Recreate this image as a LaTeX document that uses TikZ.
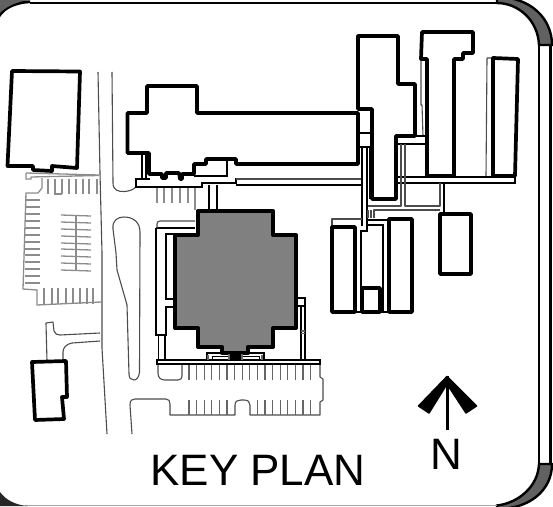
\documentclass[tikz,border=0pt]{standalone}
\usepackage{fontspec}
\setmainfont{Liberation Sans}
\usetikzlibrary{calc}
\tikzset{
  bldg/.style={draw=black,line width=3.7pt,line join=round,line cap=round},
  walk/.style={draw=black,line width=1.5pt,line join=miter},
  curb/.style={draw=black!70,line width=1.1pt,line join=round},
  lot/.style={draw=black!45,line width=1.3pt},
  stall/.style={draw=black!60,line width=1.3pt},
  corner/.style={fill=black!62,draw=black,line width=2.4pt},
  plantext/.style={inner sep=0pt,anchor=base,font=\fontsize{44}{44}\selectfont}
}
\def\drawbldg{\draw[bldg]}
\def\drawwalk{\draw[walk]}
\def\drawcurb{\draw[curb]}
\def\drawlot{\draw[lot]}
\begin{document}
\begin{tikzpicture}[x=1pt,y=-1pt]
\useasboundingbox (0,0) rectangle (553,506);
\begin{scope}
\clip (0,0) rectangle (553,506);
\draw[corner] (497,-3) .. controls (530,-3) and (552,18) .. (552,45) -- (539,45) .. controls (538,20) and (518,3) .. (497,3) -- cycle;
\draw[corner] (552,464) .. controls (552,490) and (530,509) .. (497,509) -- (497,505.5) .. controls (518,503) and (538,487) .. (539,464) -- cycle;
\end{scope}
\draw[line width=1.8pt] (30,3) -- (497,3);
\draw[black!35,line width=1pt] (25,505.5) -- (497,505.5);
\fill[black!62] (0,0) -- (30,0) -- (30,3) .. controls (15,4) and (5,9) .. (0,17) -- cycle;
\fill[black] (0,17) .. controls (5,9) and (15,4) .. (30,3) -- (30,1) -- (24,1) .. controls (14,3) and (5,8) .. (0,13) -- cycle;
\fill[black!85] (0,506) -- (0,492) .. controls (6,500) and (15,505) .. (28,506) -- cycle;
\draw[line width=1.6pt] (539,45) -- (539,464);
\draw[line width=2.6pt] (550.5,45) -- (550.5,464);
\draw[line width=1pt] (539,45) -- (552,45);
\draw[line width=1pt] (539,464) -- (552,464);

\drawlot (31,177) -- (99,175.5) (26,173) -- (99,175) (26,173) -- (26,179) -- (31,179) -- (31,177);
\drawlot (42,178) -- (42,188) -- (38,193) -- (26,193) -- (23,289) -- (37,290) -- (37,305) -- (101,302);
\drawlot (54,194) -- (62,194);
\foreach \x in {48,55,62,69,76,83,89,97}
  \drawlot (\x,178.5) -- (\x,194);
\foreach \y in {200,207,214,221,228,235,242,249,255,262,269,276,283}
  \drawlot (25,\y) -- (40,\y);
\foreach \y in {215,222,229,236,243,249,256,263,270}
  \drawlot (61,\y) -- (91,\y+1);
\drawlot (76,215) -- (76,270);
\foreach \x in {44,52,58,66,73,80,87,93}
  \drawlot (\x,288) -- (\x,304);
\foreach \x in {157,164,172,180,188}
  \drawlot (\x,187) -- (\x,203);
\drawlot (195,187) -- (195,210);

\drawcurb (98,72) -- (100,173) -- (102,253) -- (102,348) -- (107,434);
\drawcurb (112,72) -- (113,183) .. controls (113,190) and (118,192) .. (125,191.5) .. controls (129,191) and (133,190) .. (136,187);
\drawcurb (116,253) -- (113,229) .. controls (112,220) and (118,217) .. (124,217) .. controls (133,217) and (140,222) .. (140,232) -- (139.5,372) .. controls (139,378) and (136,380) .. (134,380) .. controls (131,380) and (129,378) .. (129,374) -- (127,305) -- (117,270) -- cycle;
\drawcurb (132,434) -- (130,405) .. controls (130,400) and (132,399) .. (135,399) -- (166,399) .. controls (169,399) and (170,401) .. (170,404) -- (170,415) -- (235,415) -- (235,405) .. controls (235,401) and (238,400) .. (241,400) -- (244,400) .. controls (248,400) and (250,402) .. (250,405) -- (250,415) -- (320,415) -- (320,402) -- (323,400) -- (323,379) -- (320,377) -- (320,364);
\drawcurb (158,364) -- (158,373) .. controls (158,378) and (161,380) .. (165,380) -- (178,380) .. controls (181,380) and (182,378) .. (182,376) -- (182,364);
\drawcurb (47,361) -- (46,323) -- (53,322) -- (54,331) .. controls (55,334) and (57,335) .. (60,335) -- (100,333);
\drawcurb (100,341) -- (72,343) .. controls (66,344) and (63,348) .. (63,352) -- (63,361);

\foreach \x in {189,196.6,204.2,211.8,219.4,227,234.6,242.2,249.8,257.4,265,272.6,280.2,287.8,295.4,303,310.6}
  \draw[stall] (\x,364) -- (\x,379.5);
\foreach \x in {189,196.6,204.2,211.8,219.4,227,257.4,265,272.6,280.2,287.8,295.4,303,310.6}
  \draw[stall] (\x,400) -- (\x,415);

\draw[walk] (157,360) -- (320,360) -- (320,364) -- (157,364) -- cycle;
\drawwalk (142,155) -- (142,179) (146,153) -- (146,179);
\drawwalk (150,179) -- (136,179) -- (136,187) -- (202,187) -- (202,183) -- (236,183) -- (236,178);
\drawwalk (194,176) -- (227,176) -- (227,160);
\drawwalk (209,185) -- (209,210) (217,185) -- (217,210);
\drawwalk (236,185) -- (361,185);
\draw[curb] (236,179) -- (361,179);
\drawwalk (156,228) -- (195,228);
\drawwalk (195,234) -- (166,234) -- (166,299) -- (175,299);
\drawwalk (156,228) -- (156,335) -- (166,335) -- (166,307) -- (175,307);
\draw[curb] (157,228) -- (157,224) .. controls (157,222) and (158,221) .. (160,221) -- (195,221);
\draw[walk,line width=1pt] (158,335) -- (158,360);
\drawwalk (165,335) -- (165,360);
\drawwalk (297,298) -- (305,298) -- (305,306) -- (297,306);
\drawwalk (301,307) -- (301,360) (305,306) -- (305,360);
\draw[stall] (301,331) -- (305,331) (301,333.5) -- (305,333.5);

\draw[bldg,fill=black!50,line width=4pt] (198,211) -- (273,211) -- (273,235) -- (296,235) -- (296,328) -- (273,328) -- (273,347) -- (248,347) -- (248,353) -- (222,353) -- (222,347) -- (198,347) -- (198,328) -- (175,328) -- (175,235) -- (198,235) -- cycle;
\drawwalk (207,353) rectangle (264,360);
\draw[walk,line width=1pt] (212,356) rectangle (259,360);
\fill (229,355) rectangle (242,361);
\draw[stall] (208,355) -- (208,360) (262,355) -- (262,360) (229,354) -- (229,360) (242,354) -- (242,360);

\drawbldg (12,71) -- (80,71.5) -- (77,168) -- (52,166) -- (52,171) -- (33,170) -- (33,166) -- (7.5,166) -- cycle;
\drawbldg (147,86) -- (197,86) -- (197,113) -- (358,113) -- (358,164) -- (236,164) -- (236,159) -- (206,159) -- (206,164) -- (194,164) -- (194,174) -- (182,174) -- (182,179) -- (180,179) -- (179,173) -- (166,173) -- (166,178) -- (162,178) -- (162,174) -- (149,174) -- (149,153) -- (127.5,153) -- (127.5,113) -- (147,113) -- cycle;

\drawcurb (421,60) -- (421,105) -- (422,105) -- (423,136);
\drawcurb (487,58) -- (486,176) (487,58) -- (493,58);
\drawwalk (358,133) -- (372,133) (358,147) -- (372,147) (396,136) -- (425,136) (398,144) -- (425,144);
\drawwalk (362,147) -- (362,226) (367,147) -- (367,219) (370,147) -- (370,199);
\drawwalk (398,177) -- (515,177) -- (515,183) -- (398,183);
\drawcurb (401,144) -- (401,206) -- (368,206);
\drawcurb (405,144) -- (405,206) -- (440,206) -- (440,183);
\drawwalk (444,183) -- (444,213);
\drawcurb (374,218) -- (374,210) -- (440,210) (368,210) -- (368,218) (371,210) -- (371,218);
\drawcurb (332,227) -- (332,219) -- (362,219);
\drawwalk (367,220) -- (389,220);
\drawwalk (367,219) -- (367,231) -- (361,231) -- (361,312);
\drawwalk (367,225) -- (383,225) -- (383,312);
\drawwalk (355,312) -- (389,312);

\drawbldg (358,36) -- (398,36) -- (398,84) -- (415,84) -- (415,136) -- (396,136) -- (396,199) -- (372,199) -- (372,109) -- (358,109) -- cycle;
\drawbldg (422,32) -- (473,32) -- (473,53) -- (463,53) -- (463,59) -- (454,59) -- (454,176) -- (427,176) -- (427,59) -- (421,59) -- cycle;
\drawbldg (493,58) -- (518,59) -- (515,176) -- (493,176) -- cycle;
\drawbldg (332,227) -- (355,227) -- (355,312) -- (332,312) -- cycle;
\drawbldg (389,219) -- (412,219) -- (412,312) -- (389,312) -- cycle;
\drawbldg (362,288) -- (380,288) -- (380,312) -- (362,312) -- cycle;
\drawbldg (440,214) -- (471,214) -- (471,274) -- (440,274) -- cycle;
\drawbldg (32,362) -- (66,361) -- (67,397) -- (62,397) -- (64,419) -- (35,420) -- cycle;

\fill[line join=round,draw=black,line width=1.5pt] (447,376.5) -- (418.5,406) -- (429,413) -- (447,384) -- (466,413) -- (476.5,406) -- cycle;
\coordinate (shafttop) at (447,376);
\coordinate (shaftend) at (447,430);
\draw[line width=3pt] (shafttop) -- (shaftend);
\node[plantext] (north) at (446.5,469) {N};
\node[plantext] (title) at (258,485) {KEY PLAN};
\end{tikzpicture}
\end{document}
